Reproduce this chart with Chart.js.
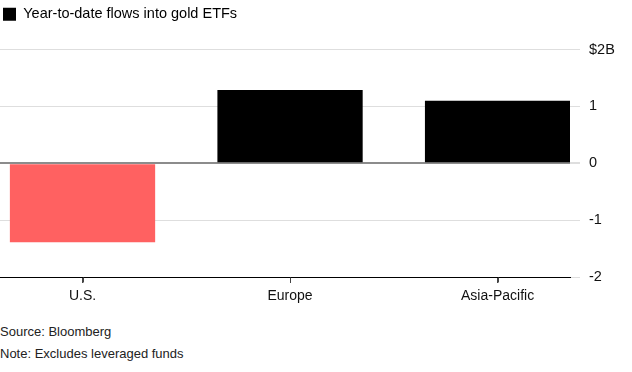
<html>
<head>
  <script src="https://cdn.jsdelivr.net/npm/chart.js"></script>
  <style>
    body { margin: 0; background: #fff; font-family: 'Liberation Sans', Arial, sans-serif; }
    #wrap { position: relative; width: 632px; height: 310px; }
    #footer { position: absolute; left: 0; top: 321px; font-size: 13px; color: #222; line-height: 22px; }
  </style>
</head>
<body>
  <div id="wrap"><canvas id="flowsChart"></canvas></div>
  <div id="footer">
    <div>Source: Bloomberg</div>
    <div>Note: Excludes leveraged funds</div>
  </div>
  <script>
    const regions = ['U.S.', 'Europe', 'Asia-Pacific'];
    const flows = [-1.39, 1.29, 1.1]; // $B, year to date
    const yTicks = [2, 1, 0, -1, -2];
    const yTickLabels = ['$2B', '1', '0', '-1', '-2'];

    // push the plot down so the top gridline sits under the legend
    const legendSpacer = {
      id: 'legendSpacer',
      beforeInit(chart) {
        const fit = chart.legend.fit;
        chart.legend.fit = function () {
          fit.bind(chart.legend)();
          this.height += 18;
        };
      }
    };

    // small tick marks under the x axis at each region
    const xTickMarks = {
      id: 'xTickMarks',
      afterDraw(chart) {
        const x = chart.scales.x;
        const c = chart.ctx;
        const base = Math.round(chart.chartArea.bottom) + 0.5;
        c.save();
        c.strokeStyle = '#444';
        c.lineWidth = 1;
        x.ticks.forEach(t => {
          const px = Math.round(x.getPixelForValue(t.value)) + 0.5;
          c.beginPath();
          c.moveTo(px, base);
          c.lineTo(px, base + 5);
          c.stroke();
        });
        c.restore();
      }
    };

    const ctx = document.getElementById('flowsChart');
    new Chart(ctx, {
      type: 'bar',
      plugins: [legendSpacer, xTickMarks],
      data: {
        datasets: [{
          label: 'Year-to-date flows into gold ETFs',
          data: flows.map((v, i) => ({ x: i, y: v })),
          backgroundColor: flows.map(v => v < 0 ? '#ff6161' : '#000000'),
          barPercentage: 0.7,
          categoryPercentage: 1
        }]
      },
      options: {
        responsive: true,
        maintainAspectRatio: false,
        animation: false,
        layout: { padding: { left: 0, right: 0, top: 4, bottom: 0 } },
        plugins: {
          tooltip: { enabled: false },
          legend: {
            display: true,
            position: 'top',
            align: 'start',
            labels: {
              boxWidth: 13,
              boxHeight: 13,
              padding: 3,
              color: '#111',
              font: { family: 'Liberation Sans', size: 14.5 },
              generateLabels: (chart) => [{
                text: chart.data.datasets[0].label,
                fillStyle: '#000',
                strokeStyle: '#000',
                lineWidth: 0,
                datasetIndex: 0
              }]
            }
          }
        },
        scales: {
          x: {
            type: 'linear',
            offset: false,
            min: -0.3976,
            max: 2.349,
            afterBuildTicks: (axis) => { axis.ticks = regions.map((r, i) => ({ value: i })); },
            afterFit: (axis) => { axis.height = 33; },
            ticks: {
              callback: (v) => regions[v],
              color: '#111',
              padding: 5,
              maxRotation: 0,
              autoSkip: false,
              font: { family: 'Liberation Sans', size: 14 }
            },
            grid: {
              offset: false,
              drawOnChartArea: false,
              drawTicks: true,
              tickLength: 6,
              tickColor: '#444'
            },
            border: { display: true, color: '#000', width: 1 }
          },
          y: {
            position: 'right',
            min: -2,
            max: 2,
            afterBuildTicks: (axis) => { axis.ticks = yTicks.map(v => ({ value: v })); },
            afterFit: (axis) => { axis.width = 62; },
            ticks: {
              callback: (v) => yTickLabels[yTicks.indexOf(v)],
              color: '#111',
              padding: 9,
              font: { family: 'Liberation Sans', size: 14.5 }
            },
            grid: {
              color: (c) => c.tick && c.tick.value === 0 ? '#8c8c8c' : (c.tick && c.tick.value === -2 ? '#000' : '#dedede'),
              lineWidth: (c) => c.tick && c.tick.value === 0 ? 2 : 1,
              tickLength: 10,
              tickColor: '#dedede'
            },
            border: { display: false }
          }
        }
      }
    });
  </script>
</body>
</html>
